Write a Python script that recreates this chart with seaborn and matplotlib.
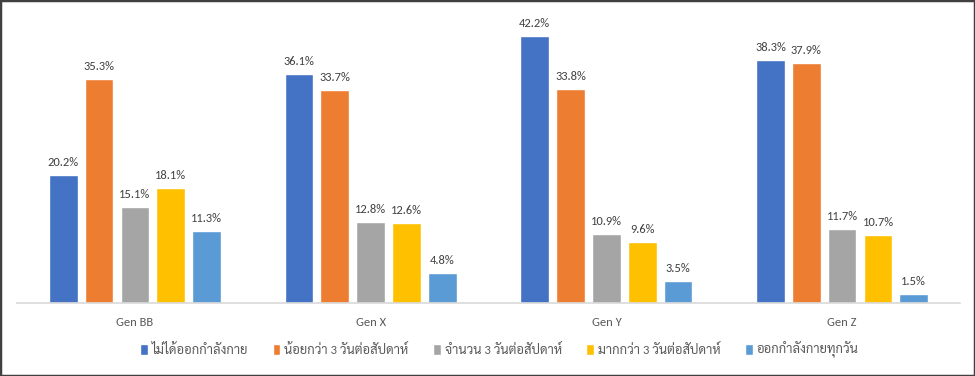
import matplotlib
matplotlib.use('Agg')
import matplotlib.pyplot as plt
import seaborn as sns
import pandas as pd
from matplotlib.patches import Rectangle

generations = ['Gen BB', 'Gen X', 'Gen Y', 'Gen Z']
series = ['ไม่ได้ออกกำลังกาย', 'น้อยกว่า 3 วันต่อสัปดาห์', 'จำนวน 3 วันต่อสัปดาห์',
          'มากกว่า 3 วันต่อสัปดาห์', 'ออกกำลังกายทุกวัน']
no_exercise   = [20.2, 36.1, 42.2, 38.3]
less_than_3   = [35.3, 33.7, 33.8, 37.9]
exactly_3     = [15.1, 12.8, 10.9, 11.7]
more_than_3   = [18.1, 12.6, 9.6, 10.7]
every_day     = [11.3, 4.8, 3.5, 1.5]

colors = ['#4472C4', '#ED7D31', '#A5A5A5', '#FFC000', '#5B9BD5']

rows = []
for name, vals in zip(series, [no_exercise, less_than_3, exactly_3, more_than_3, every_day]):
    for g, v in zip(generations, vals):
        rows.append({'gen': g, 'series': name, 'pct': v})
df = pd.DataFrame(rows)

sns.set_style('white')
plt.rcParams['font.family'] = ['Carlito', 'Sarabun', 'DejaVu Sans']

fig = plt.figure(figsize=(9.75, 3.76), dpi=100)
ax = fig.add_axes([17/975, 1 - 303/376, 943/975, (303 - 18)/376])

sns.barplot(data=df, x='gen', y='pct', hue='series', hue_order=series,
            order=generations, palette=colors, width=0.76, gap=0.2,
            saturation=1, ax=ax, legend=True)

for container in ax.containers:
    ax.bar_label(container, labels=[f'{v:.1f}%' for v in container.datavalues],
                 padding=5, fontsize=9, color='#404040')

ax.set_ylim(0, 45)
ax.set_xlim(-0.5, 3.5)
ax.set_xlabel('')
ax.set_ylabel('')
ax.set_yticks([])
for s in ['top', 'right', 'left']:
    ax.spines[s].set_visible(False)
ax.spines['bottom'].set_color('#D9D9D9')
ax.spines['bottom'].set_linewidth(1.2)
ax.tick_params(axis='x', length=0, pad=10, labelsize=9, labelcolor='#595959')

handles, labels = ax.get_legend_handles_labels()
ax.legend_.remove()
fig.legend(handles, labels, loc='center', bbox_to_anchor=(0.512, 1 - 350/376),
           ncol=5, frameon=False, fontsize=9.3, handlelength=0.6, handleheight=1.0,
           handletextpad=0.3, columnspacing=1.9, labelcolor='#595959')

fig.patches.append(Rectangle((0, 0), 1, 1, transform=fig.transFigure,
                             fill=False, edgecolor='#404040', linewidth=2.5))

fig.savefig('out.png', dpi=100)
